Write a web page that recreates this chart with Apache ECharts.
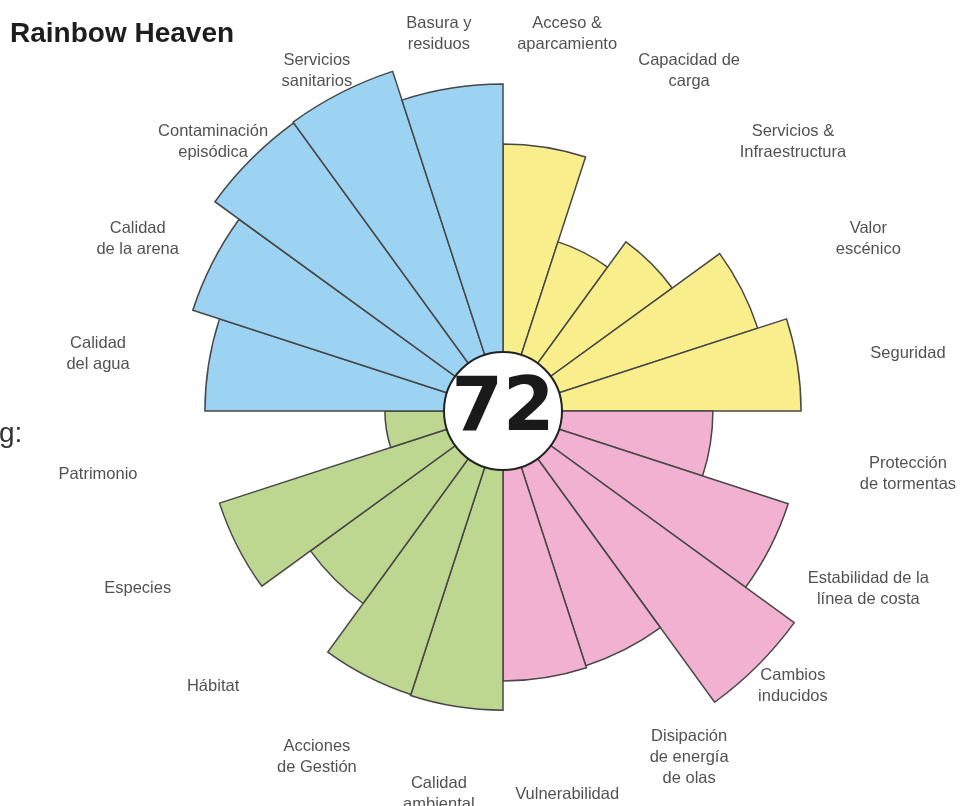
<!DOCTYPE html>
<html>
<head>
<meta charset="utf-8">
<script src="https://cdn.jsdelivr.net/npm/echarts@6/dist/echarts.min.js"></script>
<style>
  html, body { margin: 0; padding: 0; background: #ffffff; }
  #chart { width: 973px; height: 806px; }
</style>
</head>
<body>
<div id="chart"></div>
<script>
// Indicator names, clockwise from 12 o'clock
const categories = [
  'Acceso &\naparcamiento', 'Capacidad de\ncarga', 'Servicios &\nInfraestructura', 'Valor\nescénico', 'Seguridad',
  'Protección\nde tormentas', 'Estabilidad de la\nlínea de costa', 'Cambios\ninducidos', 'Disipación\nde energía\nde olas', 'Vulnerabilidad',
  'Calidad\nambiental', 'Acciones\nde Gestión', 'Hábitat', 'Especies', 'Patrimonio',
  'Calidad\ndel agua', 'Calidad\nde la arena', 'Contaminación\nepisódica', 'Servicios\nsanitarios', 'Basura y\nresiduos'
];

// Scores per theme (0-100), same order as the categories
const useValues       = [74.2, 49.4, 58.1, 74.4, 82.8];
const coastValues     = [58.3, 83.3, 100.0, 74.4, 75.0];
const natureValues    = [83.1, 82.8, 66.1, 82.8, 32.8];
const qualityValues   = [82.8, 90.6, 98.9, 99.2, 90.8];

const overallScore = 72;

const allValues = [].concat(useValues, coastValues, natureValues, qualityValues);
const themeColors = ['#f9ee8c', '#f2b1d1', '#bdd690', '#9dd3f2'];

const CENTER = [503, 411];
const POLAR_R = 360;
const R_MAX = 100;
const LABEL_BASE = 400;          // px from centre for the indicator names
const LABEL_RX = 410, LABEL_RY = 385, LABEL_DY = 3;
const TEXT_FONT = '"Liberation Sans", Arial, Helvetica, sans-serif';

// Names sit on a slightly flattened ring around the chart
const labelData = categories.map(function (name, i) {
  const a = (360 / categories.length) * (i + 0.5) * Math.PI / 180;
  return {
    value: [LABEL_BASE / POLAR_R * R_MAX, i],
    label: {
      offset: [
        (LABEL_RX - LABEL_BASE) * Math.sin(a),
        -(LABEL_RY - LABEL_BASE) * Math.cos(a) + LABEL_DY
      ]
    }
  };
});

const chart = echarts.init(document.getElementById('chart'), null, { renderer: 'canvas' });

chart.setOption({
  animation: false,
  backgroundColor: '#ffffff',
  title: [
    {
      text: 'Rainbow Heaven',
      left: 5,
      top: 15,
      textStyle: { fontFamily: TEXT_FONT, fontWeight: 'bold', fontSize: 28, color: '#1e1e1e' }
    },
    {
      text: 'g:',
      left: -6,
      top: 415,
      textStyle: { fontFamily: TEXT_FONT, fontWeight: 'normal', fontSize: 28, color: '#333333' }
    }
  ],
  polar: { center: CENTER, radius: POLAR_R },
  angleAxis: {
    type: 'category',
    data: categories,
    startAngle: 90,
    clockwise: true,
    axisLine: { show: false },
    axisTick: { show: false },
    axisLabel: { show: false },
    splitLine: { show: false }
  },
  radiusAxis: {
    type: 'value',
    min: 0,
    max: R_MAX,
    show: false,
    axisLine: { show: false },
    axisTick: { show: false },
    axisLabel: { show: false },
    splitLine: { show: false }
  },
  series: [
    {
      type: 'bar',
      coordinateSystem: 'polar',
      data: allValues,
      barCategoryGap: '0%',
      silent: true,
      itemStyle: {
        color: function (p) { return themeColors[Math.floor(p.dataIndex / 5)]; },
        borderColor: '#474747',
        borderWidth: 1.5
      },
      z: 2
    },
    {
      type: 'scatter',
      coordinateSystem: 'polar',
      data: labelData,
      clip: false,
      silent: true,
      symbol: 'circle',
      symbolSize: 1,
      itemStyle: { color: 'rgba(0,0,0,0)' },
      label: {
        show: true,
        position: 'inside',
        formatter: function (p) { return categories[p.dataIndex]; },
        fontFamily: TEXT_FONT,
        fontSize: 16.5,
        lineHeight: 21,
        color: '#262626',
        align: 'center',
        verticalAlign: 'middle'
      },
      z: 3
    },
    {
      type: 'pie',
      center: CENTER,
      radius: [0, 59],
      silent: true,
      z: 10,
      data: [{ value: overallScore, name: 'score' }],
      itemStyle: { color: '#ffffff', borderColor: '#222222', borderWidth: 2 },
      labelLine: { show: false },
      label: {
        show: true,
        position: 'center',
        formatter: String(overallScore),
        fontFamily: '"DejaVu Sans", sans-serif',
        fontWeight: 'bold',
        fontSize: 74,
        color: '#1a1a1a'
      },
      emphasis: { disabled: true }
    }
  ]
});
</script>
</body>
</html>
